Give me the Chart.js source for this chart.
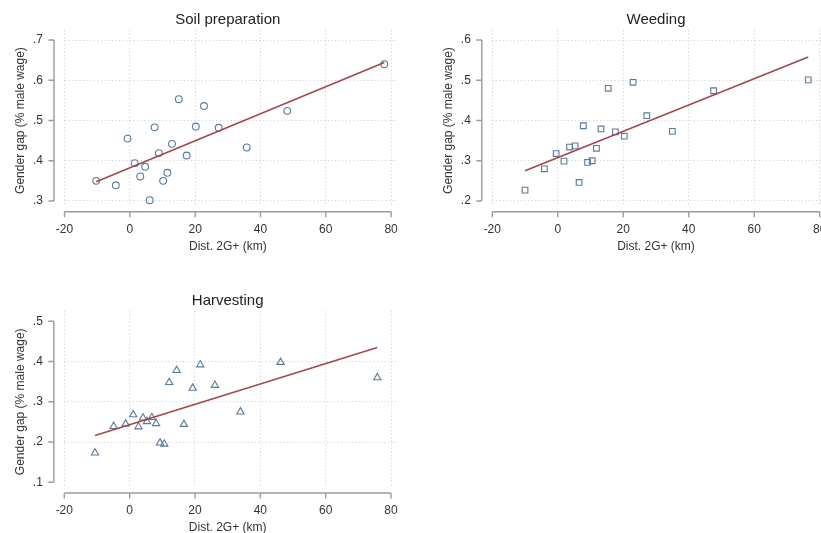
<!DOCTYPE html>
<html>
<head>
<meta charset="utf-8">
<title>Gender gap vs distance to 2G+</title>
<script src="https://cdn.jsdelivr.net/npm/chart.js@4.4.1/dist/chart.umd.min.js"></script>
<style>
  html, body { margin: 0; padding: 0; background: #fff; overflow: hidden; }
  #wrap { position: relative; width: 821px; height: 533px; overflow: hidden; }
  canvas { position: absolute; left: 0; top: 0; }
</style>
</head>
<body>
<div id="wrap">
  <canvas id="soil" width="860" height="533"></canvas>
  <canvas id="weeding" width="860" height="533"></canvas>
  <canvas id="harvest" width="860" height="533"></canvas>
</div>
<script>
// axis ticks shared by all panels
const xTicks = [-20, 0, 20, 40, 60, 80];
const xTickLabels = ['-20', '0', '20', '40', '60', '80'];
const xTitle = 'Dist. 2G+ (km)';
const yTitle = 'Gender gap (% male wage)';

// Soil preparation
const soilX = [-10.3, -4.3, -0.7, 1.5, 3.2, 4.7, 6.1, 7.6, 8.9, 10.2, 11.5, 12.9, 15.0, 17.4, 20.2, 22.7, 27.2, 35.8, 48.2, 77.9];
const soilY = [0.350, 0.339, 0.455, 0.394, 0.361, 0.385, 0.302, 0.483, 0.419, 0.350, 0.370, 0.442, 0.553, 0.413, 0.485, 0.536, 0.482, 0.433, 0.524, 0.640];
const soilFitX = [-10.3, 77.9];
const soilFitY = [0.348, 0.644];
const soilYTicks = [0.3, 0.4, 0.5, 0.6, 0.7];
const soilYLabels = ['.3', '.4', '.5', '.6', '.7'];

// Weeding
const weedX = [-10.0, -4.1, -0.5, 1.9, 3.6, 5.3, 6.5, 7.8, 9.1, 10.5, 11.8, 13.2, 15.4, 17.6, 20.3, 23.0, 27.2, 35.0, 47.6, 76.5];
const weedY = [0.227, 0.280, 0.318, 0.299, 0.334, 0.337, 0.246, 0.387, 0.296, 0.300, 0.331, 0.379, 0.480, 0.372, 0.361, 0.495, 0.412, 0.373, 0.474, 0.501];
const weedFitX = [-10.0, 76.5];
const weedFitY = [0.275, 0.558];
const weedYTicks = [0.2, 0.3, 0.4, 0.5, 0.6];
const weedYLabels = ['.2', '.3', '.4', '.5', '.6'];

// Harvesting
const harvX = [-10.6, -4.9, -1.2, 1.1, 2.7, 4.1, 5.3, 6.8, 8.1, 9.3, 10.6, 12.1, 14.4, 16.6, 19.3, 21.6, 26.1, 33.9, 46.2, 75.8];
const harvY = [0.173, 0.239, 0.245, 0.268, 0.238, 0.260, 0.251, 0.261, 0.246, 0.198, 0.195, 0.348, 0.378, 0.244, 0.334, 0.392, 0.341, 0.275, 0.398, 0.360];
const harvFitX = [-10.6, 75.8];
const harvFitY = [0.216, 0.435];
const harvYTicks = [0.1, 0.2, 0.3, 0.4, 0.5];
const harvYLabels = ['.1', '.2', '.3', '.4', '.5'];
const harvGrid = [0.2, 0.3, 0.4];

const family = '"Liberation Sans", Arial, Helvetica, sans-serif';
Chart.defaults.font.family = family;

const markerColor = '#5a7a9a';
const fitColor = '#a3474c';
const axisColor = '#9c9c9c';
const gridColor = '#d2d2d2';
const canvasW = 860;
const canvasH = 533;

function toPoints(xs, ys) {
    return xs.map((x, i) => ({ x: x, y: ys[i] }));
}

function makePanel(id, cfg) {
    // Stata-style axes: offset axis lines, outward ticks, titles
    const stataAxes = {
        id: 'stataAxes',
        afterDraw(chart) {
            const ctx = chart.ctx;
            const xs = chart.scales.x;
            const ys = chart.scales.y;
            const x0 = xs.getPixelForValue(xTicks[0]);
            const x1 = xs.getPixelForValue(xTicks[xTicks.length - 1]);
            const y0 = ys.getPixelForValue(cfg.yTicks[0]);
            const y1 = ys.getPixelForValue(cfg.yTicks[cfg.yTicks.length - 1]);
            const axX = x0 - 10.5;
            const axY = y0 + 10.7;

            ctx.save();
            ctx.strokeStyle = axisColor;
            ctx.lineWidth = 1.4;
            ctx.beginPath();
            ctx.moveTo(axX, y1);
            ctx.lineTo(axX, y0);
            cfg.yTicks.forEach(v => {
                const p = ys.getPixelForValue(v);
                ctx.moveTo(axX, p);
                ctx.lineTo(axX - 5.5, p);
            });
            ctx.moveTo(x0, axY);
            ctx.lineTo(x1, axY);
            xTicks.forEach(v => {
                const p = xs.getPixelForValue(v);
                ctx.moveTo(p, axY);
                ctx.lineTo(p, axY + 5.5);
            });
            ctx.stroke();

            ctx.textAlign = 'center';
            ctx.textBaseline = 'middle';
            ctx.fillStyle = '#222';
            ctx.font = '15px ' + family;
            ctx.fillText(cfg.title, (x0 + x1) / 2, chart.chartArea.top - 10);

            ctx.fillStyle = '#333';
            ctx.font = '12px ' + family;
            ctx.fillText(xTitle, (x0 + x1) / 2, y0 + 45.5);
            ctx.translate(x0 - 43.5, (y0 + y1) / 2);
            ctx.rotate(-Math.PI / 2);
            ctx.fillText(yTitle, 0, 0);
            ctx.restore();
        }
    };

    const area = cfg.area;
    return new Chart(document.getElementById(id), {
        type: 'scatter',
        data: {
            datasets: [
                {
                    type: 'line',
                    data: toPoints(cfg.fitX, cfg.fitY),
                    borderColor: fitColor,
                    borderWidth: 1.6,
                    pointRadius: 0,
                    fill: false,
                    clip: false
                },
                {
                    data: toPoints(cfg.x, cfg.y),
                    pointStyle: cfg.marker,
                    pointRadius: cfg.radius,
                    borderColor: markerColor,
                    backgroundColor: 'rgba(0,0,0,0)',
                    borderWidth: 1.1,
                    clip: false
                }
            ]
        },
        options: {
            responsive: false,
            animation: false,
            events: [],
            layout: {
                padding: {
                    left: area.L - 40,
                    right: canvasW - area.R,
                    top: area.T,
                    bottom: canvasH - area.B - 40
                }
            },
            plugins: {
                legend: { display: false },
                tooltip: { enabled: false },
                title: { display: false }
            },
            scales: {
                x: {
                    type: 'linear',
                    min: -20,
                    max: 81.8,
                    afterBuildTicks: s => { s.ticks = xTicks.map(v => ({ value: v })); },
                    afterFit: s => { s.height = 40; },
                    border: { display: false, dash: [1.2, 2.4] },
                    grid: { color: gridColor, lineWidth: 1, drawTicks: false },
                    ticks: {
                        autoSkip: false,
                        maxRotation: 0,
                        padding: 18,
                        color: '#333',
                        font: { size: 12 },
                        callback: (v, i) => xTickLabels[i]
                    }
                },
                y: {
                    type: 'linear',
                    min: cfg.yMin,
                    max: cfg.yMax,
                    afterBuildTicks: s => { s.ticks = cfg.yTicks.map(v => ({ value: v })); },
                    afterFit: s => { s.width = 40; },
                    border: { display: false, dash: [1.2, 2.4] },
                    grid: {
                        color: c => (cfg.grid.includes(c.tick && c.tick.value) ? gridColor : 'rgba(0,0,0,0)'),
                        lineWidth: 1,
                        drawTicks: false
                    },
                    ticks: {
                        autoSkip: false,
                        padding: 21.5,
                        color: '#333',
                        font: { size: 12 },
                        callback: (v, i) => cfg.yLabels[i]
                    }
                }
            }
        },
        plugins: [stataAxes]
    });
}

makePanel('soil', {
    title: 'Soil preparation',
    x: soilX, y: soilY, fitX: soilFitX, fitY: soilFitY,
    yTicks: soilYTicks, yLabels: soilYLabels, grid: soilYTicks,
    yMin: 0.292, yMax: 0.725,
    marker: 'circle', radius: 3.4,
    area: { L: 64.5, R: 397, T: 30, B: 204.2 }
});

makePanel('weeding', {
    title: 'Weeding',
    x: weedX, y: weedY, fitX: weedFitX, fitY: weedFitY,
    yTicks: weedYTicks, yLabels: weedYLabels, grid: weedYTicks,
    yMin: 0.192, yMax: 0.625,
    marker: 'rect', radius: 4,
    area: { L: 492.3, R: 825.6, T: 30, B: 204.2 }
});

makePanel('harvest', {
    title: 'Harvesting',
    x: harvX, y: harvY, fitX: harvFitX, fitY: harvFitY,
    yTicks: harvYTicks, yLabels: harvYLabels, grid: harvGrid,
    yMin: 0.092, yMax: 0.525,
    marker: 'triangle', radius: 4.2,
    area: { L: 64.3, R: 396.9, T: 311.2, B: 485.5 }
});
</script>
</body>
</html>
